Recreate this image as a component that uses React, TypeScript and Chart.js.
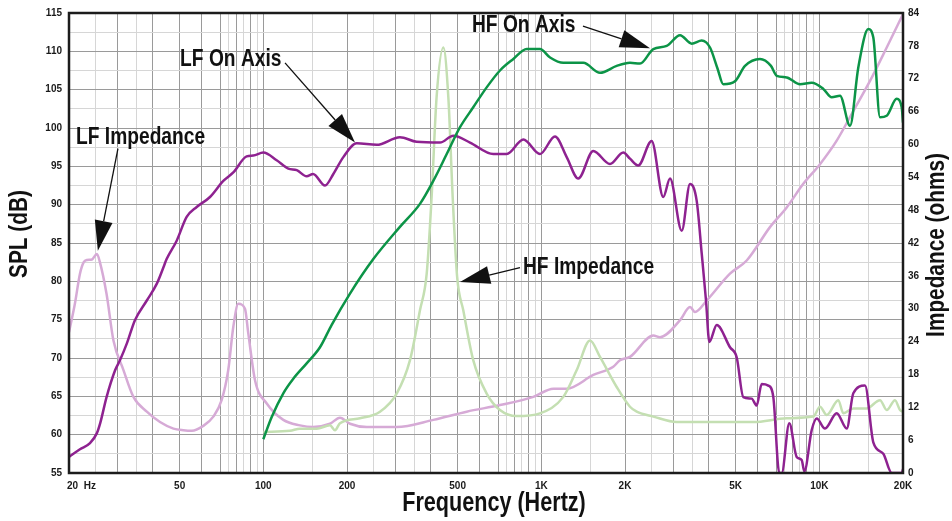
import React, { useEffect, useRef } from 'react';
import { Chart, registerables } from 'chart.js';

Chart.register(...registerables);

const FF = '"Liberation Sans", Arial, sans-serif';
const CONDENSE = 0.8;

// ---- LF On Axis (SPL dB) ----
const lfOnFreq = [20, 21.9, 23.8, 25.2, 25.9, 27.3, 29.3, 30.5, 32.3, 34.5, 38.1, 41.4, 43.7, 44.9, 48.8, 53, 57.6, 64.3, 71.8, 78, 87.1, 92, 100, 111.7, 123, 131.9, 143.2, 151, 166.7, 178.6, 194, 216.8, 255.8, 310, 356, 432, 482.6, 554, 672, 751, 862, 989, 1120, 1234, 1358, 1538, 1766, 1972, 2084, 2232, 2494, 2746, 2904, 3200, 3427, 3622, 3776, 3912, 4022, 4276, 4772, 5044, 5328, 5712, 5952, 6204, 6554, 6832, 7178, 7324, 7798, 8290, 8642, 8832, 9390, 9788, 10482, 11550, 12550, 13252, 14600, 15640, 16990, 18216, 19784, 20000];
const lfOnDb = [57.1, 58.1, 58.9, 60.2, 61.5, 64.9, 68.4, 69.7, 71.9, 74.9, 77.5, 79.7, 81.8, 82.9, 85.3, 88.4, 89.7, 91.0, 93.1, 94.2, 96.3, 96.4, 96.8, 95.8, 94.7, 94.5, 93.7, 94.0, 92.5, 94.0, 96.2, 98.0, 97.8, 98.8, 98.2, 98.1, 99.0, 98.1, 96.6, 96.6, 98.5, 96.6, 98.9, 96.2, 93.4, 97.0, 95.3, 96.8, 96.0, 95.1, 98.3, 91.0, 93.4, 86.6, 92.7, 90.5, 83.6, 77.5, 72.1, 74.3, 71.4, 70.1, 64.9, 64.7, 63.8, 66.6, 66.4, 64.9, 55, 55, 61.5, 57.1, 56.7, 55.2, 60.6, 62.1, 60.8, 62.8, 60.8, 65.4, 66.4, 59.0, 57.5, 55, 55, 55.5];

// ---- HF On Axis (SPL dB) ----
const hfOnFreq = [100, 107.2, 118, 128.2, 143.2, 159.9, 176, 205, 248.7, 310, 366, 408.7, 456.8, 510, 569, 636, 710, 793, 886, 989, 1075, 1200, 1416, 1626, 1867, 2084, 2265, 2529, 2825, 3155, 3476, 3776, 4044, 4300, 4515, 4974, 5404, 6118, 6700, 7026, 7632, 8522, 9390, 10336, 11080, 11870, 12896, 13812, 15006, 15640, 16534, 17476, 18982, 19784, 20000];
const hfOnDb = [59.4, 62.3, 65.4, 67.3, 69.3, 71.4, 74.3, 78.4, 82.9, 87.1, 90.1, 93.1, 96.6, 100.1, 102.7, 105.3, 107.5, 109.0, 110.3, 110.3, 109.2, 108.5, 108.5, 107.2, 108.1, 108.5, 108.4, 110.3, 110.7, 112.1, 111.0, 111.4, 110.5, 107.8, 105.7, 106.1, 108.1, 109.0, 108.1, 106.8, 106.6, 105.7, 105.9, 105.1, 104.0, 104.2, 100.3, 107.9, 112.9, 111.8, 101.4, 101.6, 103.8, 102.7, 100.7];

// ---- LF Impedance (ohms) ----
const lfImpFreq = [20, 21, 21.9, 22.6, 23.2, 24.2, 25.2, 25.8, 27.3, 28.9, 31.4, 34.1, 38.1, 42.5, 47.5, 51.6, 55.3, 60.8, 66.1, 70.8, 74.8, 78, 81.3, 85.9, 88.3, 93.4, 102.9, 118, 135.5, 151, 173.7, 188.7, 205, 235.5, 301.8, 408.7, 539, 710, 936, 1105, 1234, 1538, 1815, 1919, 2084, 2529, 2672, 3155, 3427, 3572, 3936, 4772, 5480, 6646, 7632, 8758, 10056, 11550, 13252, 15218, 17476, 20000];
const lfImpOhm = [25.7, 30.9, 36.4, 38.5, 38.9, 39.0, 40.0, 38.6, 32.7, 24.2, 18.8, 13.9, 11.2, 9.3, 8.1, 7.8, 7.7, 8.6, 10.3, 13.3, 18.8, 26.7, 30.9, 30.0, 25.5, 16.9, 12.7, 9.7, 8.7, 8.4, 9.0, 10.1, 9.0, 8.4, 8.4, 9.7, 11.2, 12.4, 13.9, 15.4, 15.4, 17.9, 19.4, 20.6, 21.2, 25.1, 24.8, 27.9, 30.3, 29.4, 31.5, 36.4, 38.8, 44.9, 48.5, 52.8, 56.4, 60.7, 66.1, 71.6, 77.7, 83.8];

// ---- HF Impedance (ohms) ----
const hfImpFreq = [100, 124.7, 135.5, 155.6, 173.7, 181, 188.7, 222.8, 262.8, 301.8, 337, 366, 387, 403, 420, 444, 463, 480, 498, 524, 569, 636, 710, 815, 989, 1200, 1341, 1497, 1626, 1867, 2084, 2204, 2529, 3070, 3826, 5788, 7632, 9514, 10056, 10632, 11706, 12200, 13252, 14806, 16534, 17476, 18718, 19508, 20000];
const hfImpOhm = [7.5, 7.7, 8.1, 8.1, 8.7, 7.8, 9.1, 10.0, 11.2, 14.5, 20.6, 29.7, 36.4, 50.3, 68.6, 77.7, 68.6, 50.3, 35.8, 29.7, 20.6, 14.5, 11.5, 10.4, 10.9, 13.9, 18.8, 24.2, 21.2, 15.7, 12.1, 11.2, 10.3, 9.3, 9.3, 9.3, 10.0, 10.3, 12.1, 10.6, 13.3, 10.9, 11.8, 11.8, 13.3, 11.5, 13.3, 11.5, 11.2];

// ---- Axis ticks ----
const xLabelValues = [20, 50, 100, 200, 500, 1000, 2000, 5000, 10000, 20000];
const xLabelTexts = ['         20  Hz', '50', '100', '200', '500', '1K', '2K', '5K', '10K', '20K'];
const xMajorMult = [1, 2, 3, 4, 5, 6, 7, 8, 9];
const xMinorMult = [1.5, 2.5, 3.5, 7.5, 8.5, 9.5];
const xDecades = [10, 100, 1000, 10000];
const yMin = 55, yMax = 115, yStep = 2.5, yLabelStep = 5;
const y1Min = 0, y1Max = 84, y1Step = 6;

// ---- Annotations ----
const annTexts = ['LF Impedance', 'LF On Axis', 'HF On Axis', 'HF Impedance'];
const annTextFreq = [21.2, 50.2, 563, 859];
const annTextDb = [97.95, 108.1, 112.5, 80.9];
const annFromFreq = [30.0, 119.7, 1412, 838];
const annFromDb = [97.3, 108.5, 113.3, 81.8];
const annTipFreq = [25.4, 213.7, 2460, 510];
const annTipDb = [84.0, 98.1, 110.4, 79.9];

const zip = (xs: number[], ys: number[]) => xs.map((x, i) => ({ x, y: ys[i] }));

function buildXGrid() {
  const major: number[] = [];
  const minor: number[] = [];
  xDecades.forEach((d) => {
    xMajorMult.forEach((m) => { const v = Math.round(m * d); if (v >= 20 && v <= 20000) major.push(v); });
    xMinorMult.forEach((m) => { const v = Math.round(m * d); if (v >= 20 && v <= 20000) minor.push(v); });
  });
  return { major, minor };
}

function condensedText(ctx: CanvasRenderingContext2D, text: string, x: number, y: number, align: 'left' | 'center') {
  ctx.save();
  ctx.translate(x, y);
  ctx.scale(CONDENSE, 1);
  ctx.textAlign = align;
  ctx.fillText(text, 0, 0);
  ctx.restore();
}

const overlay = {
  id: 'overlay',
  afterDraw(chart: any) {
    const { ctx, chartArea: a, scales } = chart;
    const xs = scales.x, ys = scales.y;
    ctx.save();
    ctx.strokeStyle = '#1c1c1c';
    ctx.lineWidth = 2.5;
    ctx.strokeRect(a.left, a.top, a.right - a.left, a.bottom - a.top);

    ctx.fillStyle = '#111';
    ctx.strokeStyle = '#111';
    ctx.font = `bold 24px ${FF}`;
    ctx.textBaseline = 'alphabetic';
    annTexts.forEach((t, i) => {
      condensedText(ctx, t, xs.getPixelForValue(annTextFreq[i]), ys.getPixelForValue(annTextDb[i]), 'left');
      const fx = xs.getPixelForValue(annFromFreq[i]);
      const fy = ys.getPixelForValue(annFromDb[i]);
      const tx = xs.getPixelForValue(annTipFreq[i]);
      const ty = ys.getPixelForValue(annTipDb[i]);
      const ang = Math.atan2(ty - fy, tx - fx);
      const hl = 30, hw = 9;
      const bx = tx - hl * Math.cos(ang), by = ty - hl * Math.sin(ang);
      ctx.lineWidth = 1.3;
      ctx.beginPath(); ctx.moveTo(fx, fy); ctx.lineTo(bx, by); ctx.stroke();
      ctx.beginPath();
      ctx.moveTo(tx, ty);
      ctx.lineTo(bx + hw * Math.sin(ang), by - hw * Math.cos(ang));
      ctx.lineTo(bx - hw * Math.sin(ang), by + hw * Math.cos(ang));
      ctx.closePath(); ctx.fill();
    });

    // axis titles
    ctx.font = `bold 26px ${FF}`;
    ctx.textBaseline = 'middle';
    const midY = (a.top + a.bottom) / 2;
    ctx.save(); ctx.translate(20, midY - 9); ctx.rotate(-Math.PI / 2); condensedText(ctx, 'SPL (dB)', 0, 0, 'center'); ctx.restore();
    ctx.save(); ctx.translate(937, midY + 2); ctx.rotate(-Math.PI / 2); condensedText(ctx, 'Impedance (ohms)', 0, 0, 'center'); ctx.restore();
    ctx.font = `bold 27px ${FF}`;
    ctx.textBaseline = 'alphabetic';
    condensedText(ctx, 'Frequency (Hertz)', (a.left + a.right) / 2 + 8, 511, 'center');
    ctx.restore();
  },
};

export default function App() {
  const ref = useRef<HTMLCanvasElement>(null);
  useEffect(() => {
    if (!ref.current) return;
    const { major, minor } = buildXGrid();
    const xGrid = [...major, ...minor].sort((p, q) => p - q);
    const minorSet = new Set(minor);
    const labelMap: Record<number, string> = {};
    xLabelValues.forEach((v, i) => { labelMap[v] = xLabelTexts[i]; });
    const yTicks: number[] = [];
    for (let v = yMin; v <= yMax + 1e-9; v += yStep) yTicks.push(v);
    const y1Ticks: number[] = [];
    for (let v = y1Min; v <= y1Max; v += y1Step) y1Ticks.push(v);
    const tickFont = { family: FF, size: 10, weight: 'bold' as const };
    const DARK = '#9a9a9a', LIGHT = '#d6d6d6';

    const chart = new Chart(ref.current, {
      type: 'line',
      data: {
        datasets: [
          { label: 'HF On Axis', data: zip(hfOnFreq, hfOnDb), yAxisID: 'y', borderColor: '#0C9447', borderWidth: 2.5, pointRadius: 0 },
          { label: 'LF On Axis', data: zip(lfOnFreq, lfOnDb), yAxisID: 'y', borderColor: '#8E2290', borderWidth: 2.5, pointRadius: 0 },
          { label: 'HF Impedance', data: zip(hfImpFreq, hfImpOhm), yAxisID: 'y1', borderColor: '#C4DFB2', borderWidth: 2.5, pointRadius: 0 },
          { label: 'LF Impedance', data: zip(lfImpFreq, lfImpOhm), yAxisID: 'y1', borderColor: '#D6AAD6', borderWidth: 2.5, pointRadius: 0 },
        ],
      },
      options: {
        responsive: false,
        animation: false,
        devicePixelRatio: 1,
        layout: { padding: { top: 12, left: 0, right: 0, bottom: 0 } },
        plugins: { legend: { display: false }, tooltip: { enabled: false } },
        elements: { line: { cubicInterpolationMode: 'monotone' } },
        scales: {
          x: {
            type: 'logarithmic',
            min: 20,
            max: 20000,
            afterBuildTicks: (s: any) => { s.ticks = xGrid.map((v) => ({ value: v })); },
            afterFit: (s: any) => { s.height = 48; },
            ticks: {
              autoSkip: false, maxRotation: 0, minRotation: 0, padding: 7,
              color: '#1a1a1a', font: tickFont,
              callback: (v: any) => labelMap[Math.round(Number(v))] ?? '',
            },
            grid: {
              drawTicks: false,
              color: (c: any) => (minorSet.has(Math.round(c.tick?.value)) ? LIGHT : DARK),
              lineWidth: 1,
            },
            border: { display: false },
          },
          y: {
            type: 'linear', position: 'left', min: yMin, max: yMax,
            afterBuildTicks: (s: any) => { s.ticks = yTicks.map((v) => ({ value: v })); },
            afterFit: (s: any) => { s.width = 69; },
            ticks: {
              autoSkip: false, padding: 7, color: '#1a1a1a', font: tickFont,
              callback: (v: any) => (Math.abs(Number(v) / yLabelStep - Math.round(Number(v) / yLabelStep)) < 1e-6 ? String(v) : ''),
            },
            grid: {
              drawTicks: false,
              color: (c: any) => (Math.abs(c.tick?.value / yLabelStep - Math.round(c.tick?.value / yLabelStep)) < 1e-6 ? DARK : LIGHT),
              lineWidth: 1,
            },
            border: { display: false },
          },
          y1: {
            type: 'linear', position: 'right', min: y1Min, max: y1Max,
            afterBuildTicks: (s: any) => { s.ticks = y1Ticks.map((v) => ({ value: v })); },
            afterFit: (s: any) => { s.width = 49; },
            ticks: { autoSkip: false, padding: 5, color: '#1a1a1a', font: tickFont },
            grid: { display: false, drawTicks: false },
            border: { display: false },
          },
        },
      },
      plugins: [overlay],
    } as any);
    return () => chart.destroy();
  }, []);
  return (
    <div style={{ position: 'absolute', left: 0, top: 0, width: 952, height: 521, background: '#fff' }}>
      <canvas ref={ref} width={952} height={521} style={{ width: 952, height: 521, display: 'block' }} />
    </div>
  );
}
